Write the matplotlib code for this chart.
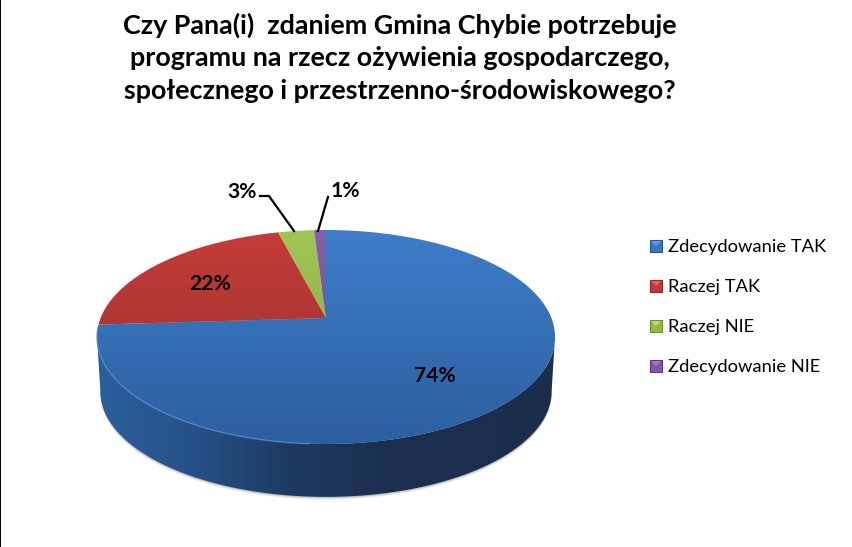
import numpy as np
import matplotlib
matplotlib.use("Agg")
import matplotlib.pyplot as plt
from matplotlib.colors import LinearSegmentedColormap
from matplotlib.patches import Polygon, Rectangle

categories = ["Zdecydowanie TAK", "Raczej TAK", "Raczej NIE", "Zdecydowanie NIE"]
values = [74, 22, 3, 1]
labels = ["74%", "22%", "3%", "1%"]
title_lines = ["Czy Pana(i)  zdaniem Gmina Chybie potrzebuje",
               "programu na rzecz ożywienia gospodarczego,",
               "społecznego i przestrzenno-środowiskowego?"]

# top face gradient (top colour, bottom colour)
top_colors = [("#3f7dc9", "#2c5f9f"), ("#c43c39", "#97302c"), ("#a2c655", "#7f9e3d"), ("#8360ad", "#5f4384")]
legend_colors = ["#3a75bd", "#c0393a", "#95b84a", "#7a5aa5"]
legend_light = ["#5d9be0", "#e0605c", "#b9dc6c", "#9c7cc8"]
legend_dark = ["#27568f", "#8f2a2a", "#6f8c36", "#54397a"]

FONT = "Lato"
W, H = 853, 547
# pie geometry in image pixels
CX, CY = 326, 318
K = 0.1777
A, B = 225.4, 103.6
DEPTH = 54.5
SHRINK = 0.985
RIM_Y = 337


def project(theta):
    # theta is clockwise from 12 o'clock, perspective squeezes the far side
    u, v = np.sin(theta), np.cos(theta)
    d = 1 + K * v
    return CX + A * u / d, CY - B * v / d


def lower_rim(x, y):
    return CX + (x - CX) * SHRINK, RIM_Y + (y - RIM_Y) * SHRINK + DEPTH


fig = plt.figure(figsize=(W / 100, H / 100), dpi=100)
ax = fig.add_axes([0, 0, 1, 1])
ax.set_xlim(0, W)
ax.set_ylim(H, 0)
ax.axis("off")

# left border of the picture
ax.add_patch(Rectangle((0, 0), 1.5, H, color="black", lw=0))

full = np.linspace(0, 2 * np.pi, 721)
sx, sy = project(full)
bx, by = lower_rim(sx, sy)

# soft shadow under the side wall
for grow, alpha in [(3, 0.05), (2, 0.08), (1, 0.14)]:
    ax.fill(bx, by + grow, color="black", alpha=alpha, lw=0, zorder=1)

# side wall, one clipped gradient so there are no seams between strips
side_cmap = LinearSegmentedColormap.from_list(
    "side", [(0, "#2b5f9c"), (0.22, "#255086"), (0.42, "#1d3a62"), (0.65, "#1a2f4f"), (1, "#1a2e4c")])
right = np.argmax(sx)
left = np.argmin(sx)
front_top = np.arange(right, left + 1)
side_xy = np.column_stack([np.r_[sx[front_top], bx[front_top][::-1]], np.r_[sy[front_top], by[front_top][::-1]]])
side_poly = Polygon(side_xy, closed=True, lw=0, fc="none")
ax.add_patch(side_poly)
im = ax.imshow(np.linspace(0, 1, 256).reshape(1, -1), cmap=side_cmap, extent=[97, 555, 500, 330],
               aspect="auto", zorder=2, interpolation="bilinear")
im.set_clip_path(side_poly)

# top face slices
edges = np.concatenate([[0], np.cumsum(values)]) / np.sum(values) * 2 * np.pi
for i in range(len(values)):
    th = np.linspace(edges[i], edges[i + 1], 200)
    px, py = project(th)
    poly = Polygon(np.column_stack([np.r_[CX, px], np.r_[CY, py]]), closed=True, lw=0, fc="none")
    ax.add_patch(poly)
    cmap = LinearSegmentedColormap.from_list("s%d" % i, top_colors[i])
    im = ax.imshow(np.linspace(0, 1, 256).reshape(-1, 1), cmap=cmap, extent=[96, 556, 445, 229],
                   aspect="auto", zorder=3, interpolation="bilinear")
    im.set_clip_path(poly)
ax.set_xlim(0, W)
ax.set_ylim(H, 0)

# light rim along the front left edge
rim = np.linspace(np.pi * 1.02, np.pi * 1.47, 120)
rx, ry = project(rim)
ax.plot(rx, ry, color="#5b8fd0", lw=1, alpha=0.7, zorder=4)

# title
for line, y in zip(title_lines, [25, 58, 91]):
    ax.text(400, y, line, ha="center", va="center", fontsize=19.4, fontweight="bold", family=FONT, color="black")

# data labels
label_pos = [(435, 376), (210, 284), (242, 192), (345, 191)]
for text, (lx, ly) in zip(labels, label_pos):
    ax.text(lx, ly, text, ha="center", va="center", fontsize=15.2, fontweight="bold", family=FONT)

# leader lines
ax.plot([260, 269, 294], [196, 196, 231], color="black", lw=1.6, zorder=5)
ax.plot([328, 318], [197, 231], color="black", lw=1.6, zorder=5)

# legend with bevelled keys
for name, col, lt, dk, y in zip(categories, legend_colors, legend_light, legend_dark, [246, 286, 326, 366]):
    ax.add_patch(Rectangle((650, y - 6), 12, 12, fc=col, ec=dk, lw=0.8))
    ax.add_patch(Polygon([(651, y - 5), (661, y - 5), (656, y)], closed=True, fc=lt, lw=0))
    ax.text(668, y + 1, name, ha="left", va="center", fontsize=13.2, family=FONT, color="black")

fig.savefig("out.png", dpi=100)
